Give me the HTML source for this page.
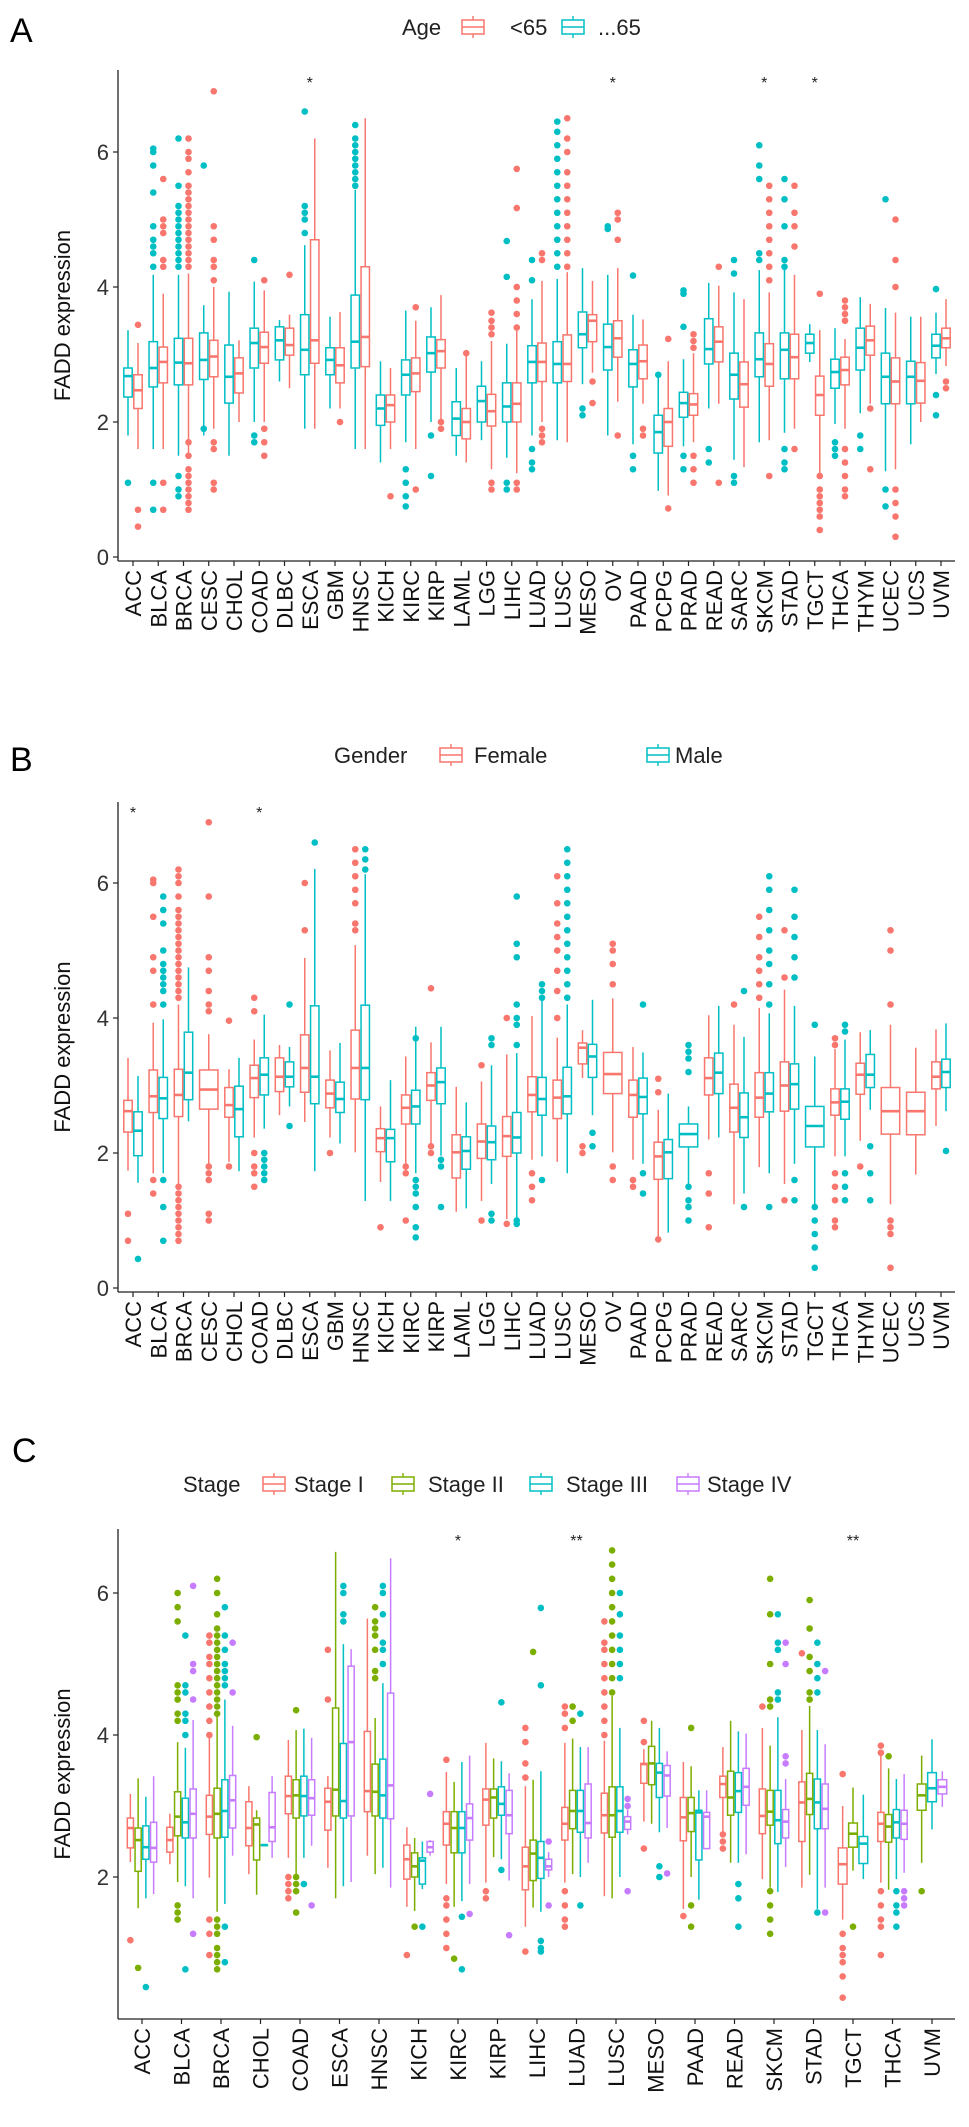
<!DOCTYPE html>
<html><head><meta charset="utf-8"><style>
html,body{margin:0;padding:0;background:#fff}
svg{display:block;font-family:"Liberation Sans",Arial,sans-serif}
</style></head><body>
<svg id="fig" width="969" height="2127" viewBox="0 0 969 2127" xmlns="http://www.w3.org/2000/svg">
<rect width="969" height="2127" fill="#fff"/>
<text x="10" y="42" font-size="34" fill="#000">A</text>
<text x="10" y="771" font-size="34" fill="#000">B</text>
<text x="12" y="1462" font-size="34" fill="#000">C</text>
<g id="legA"></g>
<g id="legB"></g>
<g id="legC"></g>
<g id="pA"></g>
<g id="pB"></g>
<g id="pC"></g>
</svg>
<script>
const RED="#F8766D",CYAN="#00BFC4",GREEN="#7CAE00",PURPLE="#C77CFF";
const catsAB=["ACC","BLCA","BRCA","CESC","CHOL","COAD","DLBC","ESCA","GBM","HNSC","KICH","KIRC","KIRP","LAML","LGG","LIHC","LUAD","LUSC","MESO","OV","PAAD","PCPG","PRAD","READ","SARC","SKCM","STAD","TGCT","THCA","THYM","UCEC","UCS","UVM"];
const catsC=["ACC","BLCA","BRCA","CHOL","COAD","ESCA","HNSC","KICH","KIRC","KIRP","LIHC","LUAD","LUSC","MESO","PAAD","READ","SKCM","STAD","TGCT","THCA","UVM"];
const yTicksAB=[0,2,4,6];
const yTicksC=[2,4,6];
// Panel A: stats [lowWhisker,q1,median,q3,highWhisker]
const ageOldStats=[[1.8,2.37,2.68,2.8,3.36],[1.6,2.52,2.8,3.19,4.18],[1.5,2.55,2.88,3.24,4.18],[1.8,2.63,2.92,3.32,3.73],[1.5,2.28,2.67,3.14,3.93],[2.0,2.8,3.17,3.39,4.08],[2.6,2.92,3.21,3.41,3.51],[1.9,2.7,3.07,3.59,4.62],[2.2,2.7,2.92,3.1,3.56],[1.6,2.8,3.19,3.88,5.44],[1.4,1.95,2.2,2.4,2.9],[1.7,2.4,2.7,2.92,3.65],[2.0,2.74,3.02,3.26,3.7],[1.5,1.8,2.05,2.3,2.8],[1.73,2.0,2.31,2.53,2.9],[1.47,2.0,2.23,2.58,3.16],[1.8,2.58,2.89,3.13,3.82],[1.73,2.58,2.86,3.19,4.12],[2.56,3.1,3.3,3.63,4.28],[1.8,2.77,3.11,3.45,4.18],[1.67,2.52,2.86,3.07,3.59],[0.98,1.54,1.85,2.1,2.66],[1.64,2.07,2.28,2.44,2.93],[2.2,2.86,3.08,3.53,4.06],[1.44,2.34,2.7,3.02,3.92],[1.7,2.67,2.93,3.32,4.25],[1.84,2.64,3.07,3.32,4.28],[2.89,3.02,3.17,3.3,3.45],[1.97,2.5,2.74,2.93,3.39],[2.13,2.77,3.1,3.39,3.85],[1.27,2.27,2.67,3.02,3.69],[1.67,2.27,2.67,2.9,3.56],[2.71,2.95,3.13,3.3,3.62]];
const ageOldOut=[[1.1],[4.3,4.5,4.6,4.7,4.9,5.4,5.8,6.0,6.05,1.1,0.7],[4.3,4.4,4.5,4.6,4.7,4.8,4.9,5.0,5.1,5.2,5.5,6.2,1.2,1.0,0.9],[5.8,1.9],[],[4.4,1.7,1.8],[],[4.8,5.0,5.1,5.2,6.6],[],[5.5,5.6,5.7,5.8,5.9,6.0,6.1,6.2,6.4],[],[1.3,1.1,0.9,0.75],[1.8,1.2],[],[],[4.15,4.68,1.1,1.0],[4.1,4.4,1.6,1.4,1.3],[4.3,4.5,4.7,4.9,5.1,5.3,5.5,5.7,5.9,6.1,6.3,6.45],[2.1,2.2],[4.86,4.9],[4.17,1.5,1.3],[2.7],[3.41,3.9,3.95,1.5,1.3],[1.6,1.4],[4.2,4.4,1.2,1.1],[4.4,4.5,5.6,5.8,6.1],[4.3,4.4,4.9,5.3,5.6,1.6,1.4,1.3],[],[1.7,1.6,1.5],[1.8,1.6],[5.3,1.0,0.75],[],[3.97,2.4,2.1]];
const ageYoungStats=[[1.6,2.2,2.47,2.7,3.17],[1.6,2.58,2.89,3.11,3.9],[1.5,2.55,2.87,3.24,4.2],[1.9,2.67,2.97,3.21,4.0],[2.0,2.43,2.72,2.95,3.21],[2.0,2.87,3.11,3.33,3.95],[2.5,2.99,3.14,3.39,3.59],[1.9,2.87,3.21,4.7,6.2],[2.2,2.58,2.84,3.1,3.63],[1.6,2.82,3.26,4.3,6.5],[1.6,2.0,2.25,2.4,2.8],[1.6,2.45,2.72,2.95,3.5],[2.0,2.8,3.05,3.22,3.88],[1.4,1.75,2.0,2.2,3.0],[1.3,1.94,2.16,2.41,3.2],[1.24,2.0,2.27,2.58,3.36],[2.0,2.6,2.89,3.17,4.09],[1.7,2.6,2.86,3.29,4.22],[2.73,3.19,3.5,3.59,4.09],[2.3,2.96,3.24,3.5,4.28],[2.27,2.64,2.9,3.14,3.52],[0.91,1.64,2.0,2.2,2.9],[1.7,2.1,2.26,2.42,3.02],[2.27,2.89,3.19,3.41,4.02],[1.33,2.22,2.56,2.89,3.82],[1.73,2.53,2.86,3.16,3.92],[1.9,2.64,2.96,3.3,4.18],[1.24,2.1,2.4,2.68,3.36],[1.9,2.55,2.77,2.96,3.23],[2.27,2.99,3.21,3.42,3.75],[1.3,2.27,2.6,2.95,3.62],[2.0,2.28,2.61,2.88,3.56],[2.83,3.1,3.24,3.39,3.82]];
const ageYoungOut=[[3.44,0.7,0.45],[4.3,4.4,4.8,4.9,5.0,5.6,1.1,0.7],[4.3,4.4,4.5,4.6,4.7,4.8,4.9,5.0,5.1,5.2,5.3,5.4,5.5,5.7,5.9,6.0,6.2,1.7,1.5,1.3,1.2,1.1,1.0,0.9,0.8,0.7],[4.1,4.3,4.4,4.7,4.9,6.9,1.7,1.6,1.1,1.0],[],[4.1,1.9,1.7,1.5],[4.18],[],[2.0],[],[0.9],[3.7,1.0],[1.9,2.0],[3.02],[3.3,3.4,3.5,3.62,1.1,1.0],[3.4,3.6,3.8,4.0,5.17,5.75,1.0,1.1],[4.4,4.5,1.9,1.8,1.7],[4.3,4.5,4.7,4.9,5.1,5.3,5.5,5.7,6.0,6.2,6.5],[2.6,2.28],[4.7,5.0,5.1,1.8],[1.9,1.8],[3.23,0.72],[3.1,3.2,3.3,1.5,1.3,1.1],[4.3,1.1],[],[4.1,4.3,4.5,4.7,4.9,5.1,5.3,5.5,1.2],[4.6,4.9,5.1,5.5,1.6],[3.9,1.2,1.0,0.9,0.8,0.7,0.6,0.4],[3.5,3.6,3.7,3.8,1.6,1.4,1.2,1.0,0.9],[2.2,1.3],[4.0,4.4,5.0,1.0,0.8,0.6,0.3],[],[2.6,2.5]];
const sigA=["","","","","","","","*","","","","","","","","","","","","*","","","","","","*","","*","","","","",""];
// Panel B
const femaleStats=[[1.74,2.31,2.62,2.78,3.41],[1.7,2.6,2.84,3.23,3.93],[1.5,2.54,2.86,3.24,4.2],[1.81,2.65,2.94,3.23,3.76],[1.87,2.53,2.71,2.97,3.24],[2.23,2.82,3.11,3.3,3.68],[2.56,2.91,3.13,3.41,3.6],[2.46,2.9,3.26,3.75,4.89],[2.23,2.67,2.88,3.08,3.52],[2.01,2.8,3.26,3.82,5.08],[1.57,2.02,2.22,2.36,2.69],[1.68,2.43,2.67,2.86,3.43],[2.14,2.78,3.0,3.19,3.64],[1.13,1.63,2.01,2.27,2.98],[1.29,1.92,2.17,2.43,3.06],[1.02,1.95,2.25,2.54,3.46],[1.9,2.61,2.86,3.13,4.03],[1.87,2.51,2.82,3.08,3.71],[3.11,3.32,3.56,3.63,3.82],[2.01,2.88,3.17,3.49,4.29],[1.9,2.53,2.86,3.08,3.57],[0.74,1.61,1.95,2.16,2.64],null,[2.2,2.86,3.11,3.41,4.04],[1.24,2.31,2.67,3.02,3.9],[1.79,2.53,2.82,3.19,4.15],[1.54,2.62,3.0,3.35,4.42],null,[1.95,2.56,2.75,2.95,3.54],[2.18,2.87,3.16,3.33,3.79],[1.24,2.28,2.62,2.97,3.9],[1.68,2.27,2.62,2.9,3.56],[2.4,2.95,3.13,3.35,3.83]];
const femaleOut=[[1.1,0.7],[4.2,4.7,4.9,5.5,6.0,6.05,1.6,1.4],[4.3,4.4,4.5,4.6,4.7,4.8,4.9,5.0,5.1,5.2,5.3,5.4,5.5,5.6,5.8,6.0,6.1,6.2,1.5,1.4,1.3,1.2,1.1,1.0,0.9,0.8,0.7],[4.1,4.2,4.4,4.7,4.9,5.8,6.9,1.8,1.7,1.6,1.1,1.0],[3.96,1.8],[4.1,4.3,2.0,1.8,1.7,1.5],[],[5.3,6.0],[2.0],[5.3,5.4,5.7,5.9,6.1,6.3,6.5],[0.9],[1.8,1.7,1.0],[4.44,2.1,2.0],[],[3.3,1.0],[4.0,0.95],[1.7,1.5,1.3],[4.0,4.4,4.7,5.0,5.2,5.4,5.7,6.1],[2.1,2.0],[4.5,4.8,5.0,5.1,1.8,1.6],[1.6,1.5],[2.9,3.1,0.72],[],[1.7,1.4,0.9],[4.2],[4.3,4.5,4.7,4.9,5.2,5.5],[4.6,5.3,1.3],[],[3.6,3.7,1.7,1.5,1.3,1.0,0.9],[1.8],[4.2,5.0,5.3,1.0,0.9,0.8,0.3],[],[]];
const maleStats=[[1.56,1.96,2.33,2.61,3.14],[1.7,2.51,2.81,3.12,3.98],[2.47,2.79,3.19,3.79,4.75],null,[1.73,2.24,2.65,2.99,3.41],[2.36,2.86,3.16,3.41,4.05],[2.69,2.98,3.13,3.35,3.57],[1.73,2.73,3.13,4.18,6.21],[2.14,2.6,2.8,3.05,3.63],[1.29,2.79,3.26,4.19,6.13],[1.29,1.87,2.22,2.35,3.08],[1.7,2.43,2.69,2.93,3.87],[1.96,2.73,3.05,3.26,3.87],[1.18,1.76,2.03,2.24,2.75],[1.54,1.9,2.16,2.4,3.3],[1.04,2.0,2.23,2.6,3.48],[1.95,2.56,2.8,3.12,4.26],[1.7,2.58,2.84,3.27,4.2],[2.56,3.12,3.43,3.61,4.27],null,[1.84,2.58,2.83,3.11,3.49],[0.82,1.62,2.01,2.2,2.88],[1.54,2.09,2.28,2.43,2.69],[2.23,2.88,3.19,3.48,4.18],[1.4,2.23,2.53,2.89,3.72],[1.7,2.61,2.88,3.19,4.07],[1.84,2.65,3.02,3.32,4.18],[1.21,2.09,2.4,2.69,3.43],[1.95,2.5,2.76,2.95,3.68],[2.64,2.97,3.16,3.46,3.82],null,null,[2.62,2.97,3.2,3.39,3.92]];
const maleOut=[[0.43],[4.2,4.4,4.5,4.6,4.7,4.8,5.0,5.4,5.6,5.8,1.6,1.2,0.7],[],[],[],[2.0,1.9,1.8,1.7,1.6],[4.2,2.4],[6.6],[],[6.2,6.35,6.5],[],[3.7,1.6,1.5,1.4,1.2,0.9,0.75],[1.9,1.8,1.2],[],[3.6,3.7,1.1,1.0],[3.6,3.9,4.0,4.2,4.9,5.1,5.8,1.0,0.95],[4.3,4.4,4.5,1.6],[4.3,4.5,4.7,4.9,5.1,5.3,5.5,5.7,5.9,6.1,6.3,6.5],[2.3,2.1],[],[4.2,1.7,1.4],[],[3.2,3.4,3.5,3.6,1.5,1.3,1.2,1.0],[],[4.4,1.2],[4.2,4.5,4.8,5.0,5.3,5.6,5.9,6.1,1.2],[4.6,4.9,5.2,5.5,5.9,1.6,1.3],[3.9,1.2,1.0,0.8,0.6,0.3],[3.8,3.9,1.7,1.5,1.3],[2.1,1.7,1.3],[],[],[2.03]];
const sigB=["*","","","","","*","","","","","","","","","","","","","","","","","","","","","","","","","","",""];
// Panel C
const stage1Stats=[[2.21,2.41,2.69,2.83,3.17],[2.18,2.35,2.52,2.7,2.89],[1.99,2.6,2.85,3.15,3.99],[2.04,2.44,2.69,3.06,3.28],[2.27,2.89,3.14,3.42,3.93],[2.13,2.66,3.06,3.25,3.42],[2.3,2.92,3.21,4.05,5.64],[1.58,1.97,2.25,2.45,2.7],[1.9,2.45,2.75,2.92,3.48],[1.92,2.73,3.09,3.24,3.89],[1.3,1.82,2.15,2.42,3.28],[1.92,2.52,2.75,2.98,3.89],[1.73,2.62,2.87,3.18,3.92],[2.78,3.32,3.59,3.6,3.8],[1.55,2.51,2.84,3.12,3.62],[2.6,3.12,3.31,3.42,3.83],[1.97,2.61,2.86,3.24,4.1],[1.85,2.5,3.05,3.34,4.07],[1.4,1.9,2.18,2.41,3.0],[1.92,2.5,2.75,2.91,3.71],null];
const stage1Out=[[1.11],[],[4.0,4.2,4.4,4.6,4.8,5.0,5.1,5.3,5.4,1.4,1.2,0.9],[],[2.0,1.9,1.8,1.7],[4.5,5.2],[],[0.9],[3.65,1.7,1.6,1.4,1.2,1.0],[1.8,1.7],[3.4,3.6,3.9,4.1,0.95],[4.1,4.3,4.4,1.8,1.6,1.4,1.3],[4.0,4.2,4.4,4.6,4.8,5.0,5.2,5.3,5.6],[4.2,3.9,2.4],[1.45],[2.4,2.5,2.6],[4.4],[5.15],[3.45,1.2,1.0,0.9,0.8,0.6,0.3],[3.75,3.85,1.8,1.6,1.4,1.3,0.9],[]];
const stage2Stats=[[1.56,2.08,2.52,2.69,3.39],[1.93,2.58,2.85,3.2,3.9],[1.51,2.55,2.89,3.25,4.3],[1.75,2.24,2.74,2.83,2.94],[2.04,2.83,3.15,3.37,4.07],[1.7,2.86,3.23,4.38,6.58],[2.04,2.86,3.2,3.59,4.24],[1.52,2.0,2.15,2.34,2.55],[1.58,2.34,2.69,2.92,3.34],[2.28,2.83,3.12,3.24,3.67],[1.57,1.95,2.33,2.52,3.37],[2.04,2.68,2.93,3.22,3.95],[1.7,2.56,2.87,3.27,4.55],[2.75,3.3,3.6,3.84,4.2],[2.0,2.64,2.9,3.12,3.56],[2.2,2.87,3.12,3.49,4.2],[1.85,2.73,2.92,3.22,3.85],[2.03,2.88,3.1,3.46,4.41],[2.09,2.42,2.61,2.76,3.26],[1.82,2.49,2.71,2.88,3.53],[2.2,2.94,3.15,3.31,3.71]];
const stage2Out=[[0.72],[4.2,4.3,4.5,4.6,4.7,5.6,5.8,6.0,1.6,1.5,1.4],[4.3,4.4,4.5,4.6,4.7,4.8,4.9,5.0,5.1,5.2,5.3,5.4,5.5,5.7,6.0,6.2,1.4,1.3,1.2,1.0,0.9,0.8,0.7],[3.97],[4.35,2.0,1.9,1.8,1.5],[],[4.8,4.9,5.2,5.4,5.5,5.6,5.8],[1.3],[0.85],[],[5.17],[4.2,4.4],[4.6,4.8,5.0,5.2,5.4,5.6,5.8,6.0,6.2,6.4,6.6],[],[4.1,1.6,1.3],[],[4.4,4.5,5.0,5.7,6.2,1.8,1.6,1.4,1.2],[4.5,4.6,4.9,5.1,5.5,5.9],[1.3],[3.7],[1.8]];
const stage3Stats=[[1.7,2.25,2.42,2.72,3.13],[1.87,2.55,2.77,3.11,3.82],[1.62,2.56,2.93,3.37,4.5],[2.45,2.45,2.45,2.45,2.45],[2.27,2.86,3.14,3.42,4.09],[1.87,2.83,3.07,3.88,5.28],[2.13,2.83,3.15,3.66,4.73],[1.83,1.9,2.23,2.27,2.5],[1.66,2.34,2.69,2.92,3.62],[2.25,2.87,3.03,3.27,3.63],[1.51,1.98,2.27,2.5,3.49],[2.0,2.63,2.93,3.22,3.83],[2.0,2.63,2.93,3.27,4.1],[2.63,3.12,3.47,3.6,4.1],[1.68,2.24,2.91,2.94,3.22],[2.2,2.91,3.21,3.47,4.05],[1.79,2.47,2.8,3.22,4.25],[1.55,2.68,3.05,3.38,4.07],[1.97,2.19,2.47,2.57,3.16],[1.97,2.55,2.77,2.95,3.38],[2.67,3.06,3.25,3.47,3.94]];
const stage3Out=[[0.45],[4.0,4.2,4.3,4.6,4.7,5.4,0.7],[4.7,4.8,4.9,5.0,5.2,5.4,5.8,1.3,0.8],[],[1.9],[5.6,5.7,6.0,6.1],[5.0,5.2,5.3,5.7,6.0,6.1],[1.3],[1.44,0.7],[4.46,2.1],[5.79,4.7,1.1,1.0,0.95],[4.3,1.6],[4.8,5.0,5.2,5.4,5.7,6.0],[2.15,2.0],[],[1.9,1.7,1.3],[4.5,4.6,5.2,5.3,5.7],[4.6,4.8,5.0,5.3,1.5],[],[1.8,1.6,1.5,1.3],[]];
const stage4Stats=[[1.76,2.21,2.41,2.77,3.42],[1.7,2.55,2.89,3.24,4.21],[2.3,2.69,3.08,3.43,4.13],[2.27,2.5,2.7,3.19,3.42],[2.44,2.87,3.11,3.37,3.96],[1.93,2.86,3.9,4.97,5.21],[1.85,2.82,3.29,4.59,6.49],[2.3,2.35,2.42,2.5,2.52],[1.9,2.52,2.83,3.03,3.71],[1.95,2.61,2.87,3.22,3.46],[2.0,2.1,2.15,2.25,2.35],[2.2,2.55,2.76,3.31,3.83],[2.6,2.67,2.78,2.85,2.95],[2.69,3.14,3.43,3.57,3.77],[2.39,2.4,2.85,2.91,3.22],[2.32,3.01,3.27,3.53,4.02],[2.14,2.55,2.78,2.95,3.38],[1.85,2.68,2.96,3.31,3.87],null,[2.06,2.53,2.75,2.94,3.45],[2.99,3.17,3.27,3.37,3.49]];
const stage4Out=[[],[4.5,4.9,5.0,6.1,1.2],[4.6,5.3],[],[1.6],[],[],[3.17],[1.48],[1.18],[2.5,1.6],[],[3.1,3.0,1.8],[2.05],[],[],[3.6,3.7,5.0,5.3],[4.9,1.5],[],[1.8,1.7,1.6],[]];
const sigC=["","","","","","","","","*","","","**","","","","","","","**","",""];

const NS="http://www.w3.org/2000/svg";
function mk(tag,attrs,parent){const e=document.createElementNS(NS,tag);for(const k in attrs)e.setAttribute(k,attrs[k]);parent.appendChild(e);return e;}

function drawPanel(g,cfg){
  const x=i=>cfg.x0+i*cfg.step;
  const y=v=>cfg.y0-v*cfg.ppu;
  const AX="#222";
  // axes
  const yl=mk("line",{x1:cfg.axX,y1:cfg.top,x2:cfg.axX,y2:cfg.bottom,stroke:AX,"stroke-width":1.3},g);
  
  
  const xl=mk("line",{x1:cfg.axX,y1:cfg.bottom,x2:cfg.right,y2:cfg.bottom,stroke:AX,"stroke-width":1.3},g);
  
  
  cfg.yTicks.forEach(t=>{
    mk("line",{x1:cfg.axX-5,y1:y(t),x2:cfg.axX,y2:y(t),stroke:AX,"stroke-width":1.2},g);
    const tl=mk("text",{x:cfg.axX-9,y:y(t)+8,"font-size":22,"text-anchor":"end",fill:"#333"},g);
    tl.textContent=t;
    
    
  });
  const yt=mk("text",{x:0,y:0,"font-size":22,"text-anchor":"middle",fill:"#111",transform:`translate(70,${(cfg.top+cfg.bottom)/2}) rotate(-90)`},g);
  yt.textContent="FADD expression";
  
  
  cfg.cats.forEach((c,i)=>{
    const cx=x(i);
    mk("line",{x1:cx,y1:cfg.bottom,x2:cx,y2:cfg.bottom+5,stroke:AX,"stroke-width":1.2},g);
    const lab=mk("text",{x:0,y:0,"font-size":22,"text-anchor":"end",fill:"#111",transform:`translate(${cx+8},${cfg.bottom+9}) rotate(-90)`},g);
    lab.textContent=c;
    
    
    const present=cfg.groups.filter(gr=>gr.stats[i]);
    const n=present.length, w=cfg.total/n;
    present.forEach((gr,k)=>{
      const s=gr.stats[i];
      const bx=cx-cfg.total/2+k*w, mx=bx+w/2;
      const bg=mk("g",{},g);
      
      
      mk("line",{x1:mx,y1:y(s[0]),x2:mx,y2:y(s[1]),stroke:gr.color,"stroke-width":1.5},bg);
      mk("line",{x1:mx,y1:y(s[3]),x2:mx,y2:y(s[4]),stroke:gr.color,"stroke-width":1.5},bg);
      mk("rect",{x:bx+0.8,y:y(s[3]),width:Math.max(w-1.6,1),height:Math.max(y(s[1])-y(s[3]),0.5),fill:"#fff",stroke:gr.color,"stroke-width":1.5},bg);
      mk("line",{x1:bx+0.8,y1:y(s[2]),x2:bx+w-0.8,y2:y(s[2]),stroke:gr.color,"stroke-width":2.6},bg);
      (gr.outs[i]||[]).forEach(v=>{
        const p=mk("circle",{cx:mx,cy:y(v),r:3.3,fill:gr.color},bg);
        
        
      });
    });
    if(cfg.sig[i]){
      const st=mk("text",{x:cx,y:cfg.sigY,"font-size":16,"text-anchor":"middle",fill:"#222"},g);
      st.textContent=cfg.sig[i];
      
      
    }
  });
}

function legend(g,title,tx,cy,items){
  const t=mk("text",{x:tx,y:cy+8,"font-size":22,fill:"#222"},g);
  t.textContent=title;
  
  
  items.forEach(it=>{
    const e=mk("g",{},g);
    
    
    const kx=it.kx;
    mk("line",{x1:kx+11,y1:cy-11,x2:kx+11,y2:cy+11,stroke:it.color,"stroke-width":1.4},e);
    mk("rect",{x:kx,y:cy-7,width:22,height:14,fill:"#fff",stroke:it.color,"stroke-width":1.5},e);
    mk("line",{x1:kx,y1:cy,x2:kx+22,y2:cy,stroke:it.color,"stroke-width":1.5},e);
    const l=mk("text",{x:it.lx,y:cy+8,"font-size":22,fill:"#222"},e);
    l.textContent=it.label;
  });
}

legend(document.getElementById("legA"),"Age",402,27,[{kx:462,lx:510,color:RED,label:"<65"},{kx:562,lx:598,color:CYAN,label:"...65"}]);
legend(document.getElementById("legB"),"Gender",334,755,[{kx:440,lx:474,color:RED,label:"Female"},{kx:647,lx:675,color:CYAN,label:"Male"}]);
legend(document.getElementById("legC"),"Stage",183,1484,[{kx:263,lx:294,color:RED,label:"Stage I"},{kx:392,lx:428,color:GREEN,label:"Stage II"},{kx:530,lx:566,color:CYAN,label:"Stage III"},{kx:677,lx:707,color:PURPLE,label:"Stage IV"}]);

drawPanel(document.getElementById("pA"),{cats:catsAB,x0:133,step:25.25,total:20,y0:557,ppu:67.5,top:70,bottom:561,axX:118,right:955,yTicks:yTicksAB,sig:sigA,sigY:88,
  groups:[{key:"age-65-plus",color:CYAN,stats:ageOldStats,outs:ageOldOut},{key:"age-under-65",color:RED,stats:ageYoungStats,outs:ageYoungOut}]});
drawPanel(document.getElementById("pB"),{cats:catsAB,x0:133,step:25.25,total:20,y0:1288,ppu:67.5,top:802,bottom:1292,axX:118,right:955,yTicks:yTicksAB,sig:sigB,sigY:818,
  groups:[{key:"female",color:RED,stats:femaleStats,outs:femaleOut},{key:"male",color:CYAN,stats:maleStats,outs:maleOut}]});
drawPanel(document.getElementById("pC"),{cats:catsC,x0:142,step:39.5,total:31,y0:2019,ppu:71,top:1529,bottom:2019,axX:118,right:955,yTicks:yTicksC,sig:sigC,sigY:1546,
  groups:[{key:"stage-i",color:RED,stats:stage1Stats,outs:stage1Out},{key:"stage-ii",color:GREEN,stats:stage2Stats,outs:stage2Out},{key:"stage-iii",color:CYAN,stats:stage3Stats,outs:stage3Out},{key:"stage-iv",color:PURPLE,stats:stage4Stats,outs:stage4Out}]});
</script>
</body></html>
